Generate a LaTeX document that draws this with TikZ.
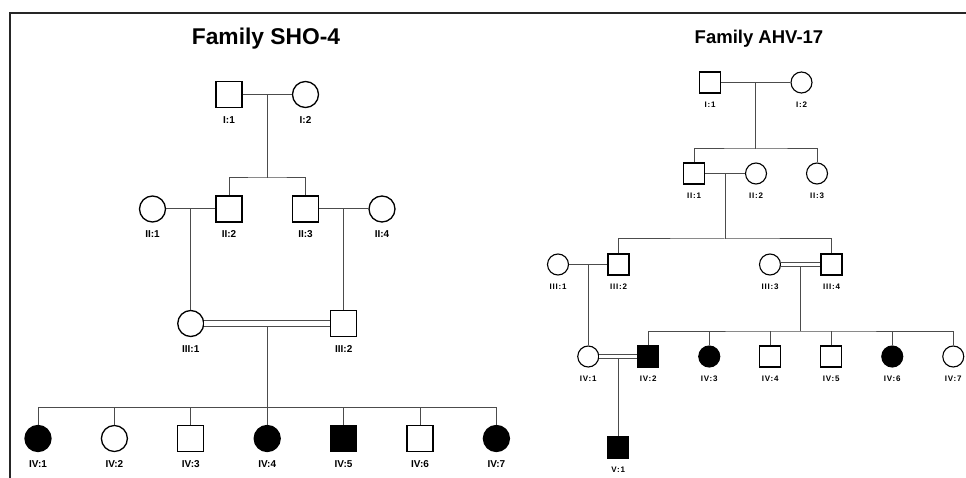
\documentclass[tikz,border=0pt]{standalone}
\usepackage{fontspec}
\setmainfont{Liberation Sans}
\newfontfamily\spacedfont[LetterSpace=10]{Liberation Sans}
\usetikzlibrary{positioning}
\usetikzlibrary{calc}

\tikzset{
  male/.style={draw, rectangle, minimum size=26pt, inner sep=0pt, line width=1.3pt},
  female/.style={draw, circle, minimum size=26pt, inner sep=0pt, line width=1.3pt},
  affected/.style={fill=black},
  small/.style={minimum size=21pt, line width=1.1pt},
  link/.style={line width=1pt, black!70},
  frame/.style={line width=1.5pt, black!85},
  lbl/.style={font=\bfseries\fontsize{10}{12}\selectfont, inner sep=0pt},
  slbl/.style={font=\spacedfont\bfseries\fontsize{8}{9}\selectfont, inner sep=0pt},
}

\begin{document}
\begin{tikzpicture}[x=1pt,y=-1pt,on grid,label distance=8pt]
\useasboundingbox (0,0) rectangle (966,478);
\draw[frame] (966,13) -- (10,13) -- (10,478);

% Family SHO-4
\node[anchor=base, font=\bfseries\fontsize{22.8}{26}\selectfont] (sTitle) at (266,45) {Family SHO-4};

\node[male] (sI1) at (229,94.5) [label={[lbl]below:{I:1}}] {};
\node[female] (sI2) [right=76.5pt of sI1, label={[lbl]below:{I:2}}] {};

\node[female] (sII1) at (152.5,209) [label={[lbl]below:{II:1}}] {};
\node[male] (sII2) [right=76.5pt of sII1, label={[lbl]below:{II:2}}] {};
\node[male] (sII3) [right=76.5pt of sII2, label={[lbl]below:{II:3}}] {};
\node[female] (sII4) [right=76.5pt of sII3, label={[lbl]below:{II:4}}] {};

\coordinate (sm1) at ($(sI1)!0.5!(sI2)$);
\coordinate (sm2) at ($(sII1)!0.5!(sII2)$);
\coordinate (sm2b) at ($(sII3)!0.5!(sII4)$);
\coordinate (ssib1) at ($(sm1)+(0,83.5)$);

\node[female] (sIII1) at ($(sm2)+(0,114.5)$) [label={[lbl]below:{III:1}}] {};
\node[male] (sIII2) at ($(sm2b)+(0,114.5)$) [label={[lbl]below:{III:2}}] {};

\coordinate (sm3) at ($(sIII1)!0.5!(sIII2)+(0,3)$);
\coordinate (ssib3) at ($(sm3)+(0,81)$);

\node[female,affected] (sIV1) at (38,438.5) [label={[lbl]below:{IV:1}}] {};
\node[female] (sIV2) [right=76.4pt of sIV1, label={[lbl]below:{IV:2}}] {};
\node[male] (sIV3) [right=76.4pt of sIV2, label={[lbl]below:{IV:3}}] {};
\node[female,affected] (sIV4) [right=76.4pt of sIV3, label={[lbl]below:{IV:4}}] {};
\node[male,affected] (sIV5) [right=76.4pt of sIV4, label={[lbl]below:{IV:5}}] {};
\node[male] (sIV6) [right=76.4pt of sIV5, label={[lbl]below:{IV:6}}] {};
\node[female,affected] (sIV7) [right=76.4pt of sIV6, label={[lbl]below:{IV:7}}] {};

\draw[link] (sI1) -- (sI2);
\draw[link] (sm1) -- (ssib1);
\draw[link] (sII2.north) |- (ssib1) -| (sII3.north);
\draw[link] (sII1) -- (sII2);
\draw[link] (sII3) -- (sII4);
\draw[link] (sm2) -- (sIII1);
\draw[link] (sm2b) -- (sIII2);
\draw[link, double, double distance=5pt] (sIII1) -- (sIII2);
\draw[link] (sm3) -- (ssib3);
\draw[link] (sIV1.north) |- (ssib3) -| (sIV7.north);
\draw[link] (sIV2.north) -- (sIV2.north |- ssib3);
\draw[link] (sIV3.north) -- (sIV3.north |- ssib3);
\draw[link] (sIV4.north) -- (sIV4.north |- ssib3);
\draw[link] (sIV5.north) -- (sIV5.north |- ssib3);
\draw[link] (sIV6.north) -- (sIV6.north |- ssib3);

% Family AHV-17
\node[anchor=base, font=\bfseries\fontsize{18.5}{22}\selectfont] (aTitle) at (759,44) {Family AHV-17};

\node[male,small] (aI1) at (710,82.5) [label={[slbl]below:{I:1}}] {};
\node[female,small] (aI2) [right=91.5pt of aI1, label={[slbl]below:{I:2}}] {};

\node[male,small] (aII1) at (694,173.5) [label={[slbl]below:{II:1}}] {};
\node[female,small] (aII2) [right=62pt of aII1, label={[slbl]below:{II:2}}] {};
\node[female,small] (aII3) [right=61pt of aII2, label={[slbl]below:{II:3}}] {};

\coordinate (am1) at ($(aI1)!0.5!(aI2)$);
\coordinate (asib1) at ($(am1)+(0,66.5)$);
\coordinate (am2) at ($(aII1)!0.5!(aII2)$);
\coordinate (asib2) at ($(am2)+(0,65.5)$);

\node[female,small] (aIII1) at (558,264.5) [label={[slbl]below:{III:1}}] {};
\node[male,small] (aIII2) [right=60.5pt of aIII1, label={[slbl]below:{III:2}}] {};
\node[female,small] (aIII3) at (770,264.5) [label={[slbl]below:{III:3}}] {};
\node[male,small] (aIII4) [right=61.5pt of aIII3, label={[slbl]below:{III:4}}] {};

\coordinate (am3) at ($(aIII1)!0.5!(aIII2)$);
\coordinate (am4) at ($(aIII3)!0.5!(aIII4)+(0,2)$);
\coordinate (asib3) at ($(am4)+(0,64.5)$);

\node[female,small] (aIV1) at ($(am3)+(0,92)$) [label={[slbl]below:{IV:1}}] {};
\node[male,small,affected] (aIV2) [right=60pt of aIV1, label={[slbl]below:{IV:2}}] {};
\node[female,small,affected] (aIV3) [right=61pt of aIV2, label={[slbl]below:{IV:3}}] {};
\node[male,small] (aIV4) [right=61pt of aIV3, label={[slbl]below:{IV:4}}] {};
\node[male,small] (aIV5) [right=61pt of aIV4, label={[slbl]below:{IV:5}}] {};
\node[female,small,affected] (aIV6) [right=61pt of aIV5, label={[slbl]below:{IV:6}}] {};
\node[female,small] (aIV7) [right=61pt of aIV6, label={[slbl]below:{IV:7}}] {};

\coordinate (am5) at ($(aIV1)!0.5!(aIV2)+(0,2)$);
\node[male,small,affected] (aV1) at ($(am5)+(0,89)$) [label={[slbl]below:{V:1}}] {};

\draw[link] (aI1) -- (aI2);
\draw[link] (am1) -- (asib1);
\draw[link] (aII1.north) |- (asib1) -| (aII3.north);
\draw[link] (aII1) -- (aII2);
\draw[link] (am2) -- (asib2);
\draw[link] (aIII2.north) |- (asib2) -| (aIII4.north);
\draw[link] (aIII1) -- (aIII2);
\draw[link] (am3) -- (aIV1);
\draw[link, double, double distance=3pt] (aIII3) -- (aIII4);
\draw[link] (am4) -- (asib3);
\draw[link] (aIV2.north) |- (asib3) -| (aIV7.north);
\draw[link] (aIV3.north) -- (aIV3.north |- asib3);
\draw[link] (aIV4.north) -- (aIV4.north |- asib3);
\draw[link] (aIV5.north) -- (aIV5.north |- asib3);
\draw[link] (aIV6.north) -- (aIV6.north |- asib3);
\draw[link, double, double distance=3pt] (aIV1) -- (aIV2);
\draw[link] (am5) -- (aV1);
\end{tikzpicture}
\end{document}
